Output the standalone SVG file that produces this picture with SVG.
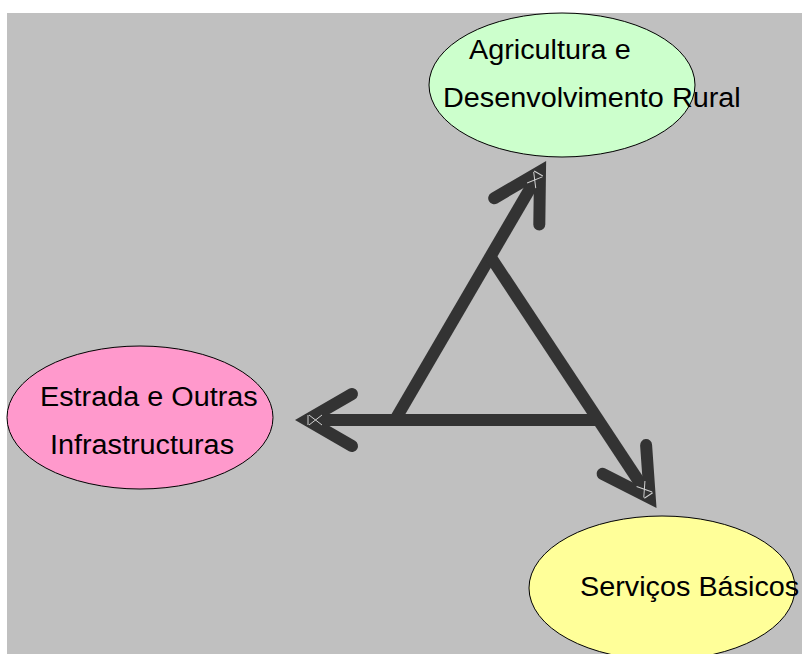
<svg xmlns="http://www.w3.org/2000/svg" width="802" height="654" viewBox="0 0 802 654">
  <style>
    .node { stroke: #000000; stroke-width: 1; }
    .label { font-family: "Liberation Sans", Arial, sans-serif; font-size: 27px; fill: #000000; }
    .shaft { fill: none; stroke: #333333; stroke-width: 12; stroke-linecap: butt; }
    .head { fill: none; stroke: #333333; stroke-width: 12; stroke-linejoin: miter; stroke-linecap: round; stroke-miterlimit: 6; }
    .mark { fill: none; stroke: #d0d0d0; stroke-width: 1; }
  </style>
  <defs>
    <!-- small light highlight drawn inside each arrow tip, local frame points left -->
    <path id="tipmark" class="mark" d="M0,-5 V5 M1,-5 L14,5 M1,5 L14,-5"/>
  </defs>

  <!-- background panel -->
  <rect x="7" y="13" width="795" height="641" fill="#C0C0C0"/>

  <!-- connectors: triangle of three arrows -->
  <g id="connectors">
    <!-- bottom-left vertex up through apex to Agricultura -->
    <line class="shaft" x1="395" y1="420" x2="540" y2="171.5"/>
    <polyline class="head" points="494.2,198.2 540,171.5 539.3,224.5"/>
    <use href="#tipmark" transform="translate(538.5,173.5) rotate(120.3)"/>

    <!-- apex down through bottom-right vertex to Serviços -->
    <line class="shaft" x1="490" y1="256" x2="649.8" y2="497.9"/>
    <polyline class="head" points="646.1,445.1 649.8,497.9 602.6,473.8"/>
    <use href="#tipmark" transform="translate(648.5,495.5) rotate(-123.5)"/>

    <!-- bottom-right vertex left to Estrada -->
    <line class="shaft" x1="601" y1="420" x2="307" y2="420"/>
    <polyline class="head" points="352,394 307,420 352,446"/>
    <use href="#tipmark" transform="translate(308,420)"/>
  </g>

  <!-- labels are set in a slightly widened face: scale(1.067,1) -->
  <g id="node-agricultura">
    <ellipse class="node" cx="562" cy="85" rx="133" ry="72" fill="#CCFFCC"/>
    <text class="label" transform="translate(469,59) scale(1.067,1)">Agricultura e</text>
    <text class="label" transform="translate(443,107) scale(1.067,1)">Desenvolvimento Rural</text>
  </g>

  <g id="node-estrada">
    <ellipse class="node" cx="140" cy="417.5" rx="133" ry="71.5" fill="#FF99CC"/>
    <text class="label" transform="translate(40,406) scale(1.067,1)">Estrada e Outras</text>
    <text class="label" transform="translate(50,454) scale(1.067,1)">Infrastructuras</text>
  </g>

  <g id="node-servicos">
    <ellipse class="node" cx="662" cy="588" rx="133" ry="72" fill="#FFFF99"/>
    <text class="label" transform="translate(580,596) scale(1.067,1)">Serviços Básicos</text>
  </g>
</svg>
